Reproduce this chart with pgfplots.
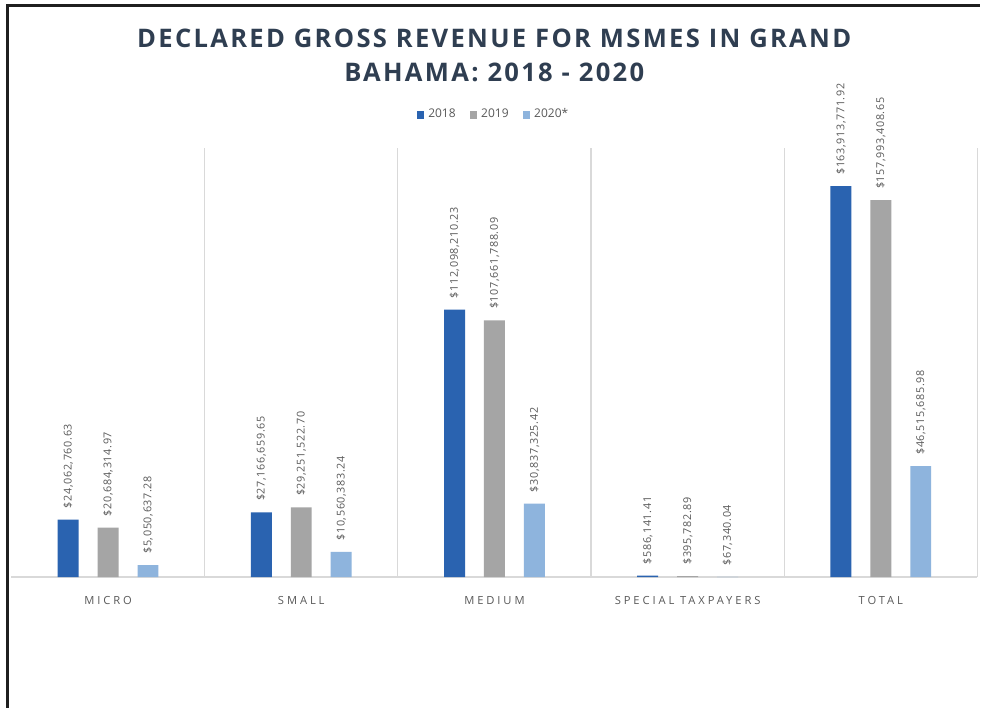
\documentclass[border=0pt]{standalone}
\usepackage{fontspec}
\setmainfont{Open Sans}
\newfontfamily\labfont[LetterSpace=6]{Open Sans}
\newfontfamily\catfont[LetterSpace=26]{Open Sans}
\newfontfamily\titfont[LetterSpace=9]{Open Sans}
\usepackage{pgfplots}
\pgfplotsset{compat=1.18}
\definecolor{c18}{HTML}{2A63B0}
\definecolor{c19}{HTML}{A5A5A5}
\definecolor{c20}{HTML}{8EB4DD}
\definecolor{titlec}{HTML}{2F3E51}
\definecolor{txtc}{HTML}{595959}
\definecolor{gridc}{HTML}{D9D9D9}
\pgfplotsset{sqleg/.style={legend image code/.code={\fill[##1,draw=none] (0pt,-1.9pt) rectangle (3.8pt,1.9pt);}}}
\begin{document}
\begin{tikzpicture}
\path[fill=white] (0pt,0pt) rectangle (491pt,354.5pt);
\draw[line width=1.6pt,color=black!88] (3.75pt,0pt) -- (3.75pt,351.75pt) -- (491pt,351.75pt);
\node[font=\titfont\bfseries\fontsize{12.8}{15}\selectfont,text=titlec,anchor=center] at (247.5pt,335.5pt) {DECLARED GROSS REVENUE FOR MSMES IN GRAND};
\node[font=\titfont\bfseries\fontsize{12.8}{15}\selectfont,text=titlec,anchor=center] at (247.5pt,318pt) {BAHAMA: 2018 - 2020};
\begin{axis}[
  at={(5.75pt,65.5pt)}, anchor=south west,
  scale only axis, width=483.75pt, height=215pt,
  ybar=9.5pt, bar width=10.5pt,
  xmin=-0.5, xmax=4.5, ymin=0, ymax=180000000,
  axis x line*=bottom, axis y line=none,
  x axis line style={draw=gridc, line width=0.6pt},
  xtick={0,1,2,3,4},
  xticklabels={MICRO,SMALL,MEDIUM,SPECIAL TAXPAYERS,TOTAL},
  major tick length=0pt, minor tick length=0pt,
  minor xtick={0.5,1.5,2.5,3.5,4.5},
  xminorgrids=true,
  minor x grid style={draw=gridc, line width=0.6pt},
  xticklabel style={font=\catfont\fontsize{5.6}{6}\selectfont, text=txtc, anchor=base, yshift=-13.5pt},
  point meta=explicit symbolic,
  nodes near coords,
  every node near coord/.append style={rotate=90, anchor=west, font=\labfont\fontsize{5.4}{6}\selectfont, text=txtc, inner xsep=5.5pt, inner ysep=0pt},
  legend columns=3,
  legend style={at={(0.5,1.0767)}, anchor=center, draw=none, fill=none, font=\fontsize{6}{7}\selectfont, text=txtc,
    /tikz/every even column/.append style={column sep=5pt}, inner sep=0pt},
  legend cell align=left,
  clip=false,
]
\addplot[fill=c18, draw=none, sqleg] coordinates {
 (0,24062760.63) [\$24,062,760.63]
 (1,27166659.65) [\$27,166,659.65]
 (2,112098210.23) [\$112,098,210.23]
 (3,586141.41) [\$586,141.41]
 (4,163913771.92) [\$163,913,771.92]
};
\addplot[fill=c19, draw=none, sqleg] coordinates {
 (0,20684314.97) [\$20,684,314.97]
 (1,29251522.70) [\$29,251,522.70]
 (2,107661788.09) [\$107,661,788.09]
 (3,395782.89) [\$395,782.89]
 (4,157993408.65) [\$157,993,408.65]
};
\addplot[fill=c20, draw=none, sqleg] coordinates {
 (0,5050637.28) [\$5,050,637.28]
 (1,10560383.24) [\$10,560,383.24]
 (2,30837325.42) [\$30,837,325.42]
 (3,67340.04) [\$67,340.04]
 (4,46515685.98) [\$46,515,685.98]
};
\legend{2018,2019,2020*}
\end{axis}
\end{tikzpicture}
\end{document}
